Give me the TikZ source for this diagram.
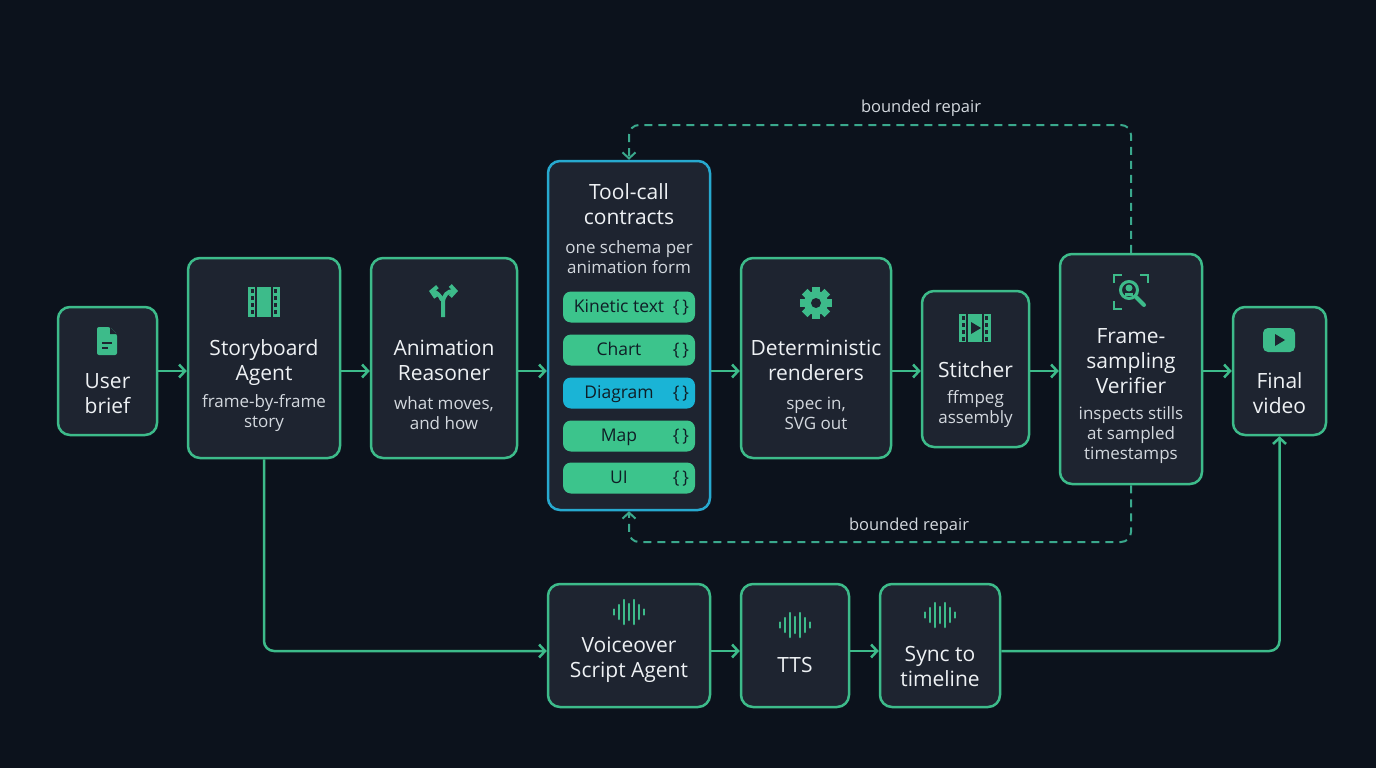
\documentclass[tikz,border=0pt]{standalone}
\usepackage{fontspec}
\setmainfont{Open Sans}
\usetikzlibrary{positioning,arrows.meta}

\definecolor{bg}{HTML}{0C121C}
\definecolor{boxfill}{HTML}{1E2430}
\definecolor{accent}{HTML}{3DBB8A}
\definecolor{pillgreen}{HTML}{3CC48C}
\definecolor{toolcyan}{HTML}{27A9CF}
\definecolor{pillcyan}{HTML}{1AB4D6}
\definecolor{dashcol}{HTML}{3AA88C}
\definecolor{txtmain}{HTML}{EEF1F4}
\definecolor{txtsub}{HTML}{D3D8DE}
\definecolor{pilltxt}{HTML}{0F1E26}

\newcommand{\pilltext}[1]{\makebox[100pt][c]{#1}\makebox[20pt][r]{\{\,\}}}

\tikzset{
  box/.style={draw=accent, line width=2.5pt, fill=boxfill, rounded corners=12pt, inner sep=0pt},
  boxhead/.style={text=txtmain, align=center, font=\fontsize{21}{25}\selectfont, inner sep=0pt},
  boxsub/.style={text=txtsub, align=center, font=\fontsize{17}{20}\selectfont, inner sep=0pt},
  pill/.style={fill=pillgreen, rounded corners=8pt, minimum width=132pt, minimum height=31pt,
    text=pilltxt, font=\fontsize{17.5}{20}\selectfont, inner sep=0pt, text height=12pt, text depth=2pt},
  flow/.style={draw=accent, line width=2.5pt, ->, rounded corners=10pt},
  repair/.style={draw=dashcol, line width=2pt, dash pattern=on 8pt off 6pt, ->, rounded corners=10pt},
  repairnote/.style={text=txtsub, font=\fontsize{16.5}{18}\selectfont},
  >={Straight Barb[length=6pt, width=13pt]},
  % icons
  pics/docicon/.style={code={
    \fill[accent, rounded corners=2pt] (-10,-14) -- (3,-14) -- (10,-7) -- (10,14) -- (-10,14) -- cycle;
    \fill[boxfill] (3,-14) -- (3,-7) -- (10,-7) -- cycle;
    \draw[boxfill, line width=2pt] (-5,2) -- (5,2) (-5,7) -- (1,7);
  }},
  pics/filmicon/.style={code={
    \fill[accent] (-16,-15) rectangle (16,15);
    \foreach \y in {-11,-4,3,10} {
      \fill[boxfill] (-13,{\y-2}) rectangle (-10,{\y+2});
      \fill[boxfill] (10,{\y-2}) rectangle (13,{\y+2});
    }
    \draw[boxfill, line width=1.5pt] (-8,-15) -- (-8,15) (8,-15) -- (8,15);
  }},
  pics/playfilm/.style={code={
    \fill[accent] (-16,-14) rectangle (16,14);
    \foreach \y in {-10,-3,4,11} {
      \fill[boxfill] (-13,{\y-2}) rectangle (-10,{\y+2});
      \fill[boxfill] (10,{\y-2}) rectangle (13,{\y+2});
    }
    \draw[boxfill, line width=1.5pt] (-8,-14) -- (-8,14) (8,-14) -- (8,14);
    \fill[boxfill] (-4,-6) -- (6,0) -- (-4,6) -- cycle;
  }},
  pics/forkicon/.style={code={
    \draw[accent, line width=4pt, -{Straight Barb[length=5pt, width=11pt]}]
      (0,16) -- (0,2) .. controls (0,-6) and (5,-10) .. (15,-10);
    \draw[accent, line width=4pt, -{Straight Barb[length=5pt, width=11pt]}]
      (-1,-1) .. controls (-3,-6) and (-7,-9) .. (-14,-10);
  }},
  pics/gearicon/.style={code={
    \foreach \a in {0,45,...,315}
      \fill[accent, rotate=\a] (-4,-16) rectangle (4,-9);
    \fill[accent] (0,0) circle (12);
    \fill[boxfill] (0,0) circle (5);
  }},
  pics/inspecticon/.style={code={
    \draw[accent, line width=2.5pt] (-17,-9) -- (-17,-17) -- (-9,-17)
      (9,-17) -- (17,-17) -- (17,-9) (-17,9) -- (-17,17) -- (-9,17);
    \draw[accent, line width=3pt] (-2,-2) circle (8.5);
    \fill[accent] (-2,-4) circle (3.5);
    \fill[accent] (-6,4) rectangle (2,1);
    \draw[accent, line width=4pt, line cap=round] (5,5) -- (13,13);
  }},
  pics/playicon/.style={code={
    \fill[accent, rounded corners=5pt] (-16,-12) rectangle (16,12);
    \fill[boxfill] (-4,-6) -- (6,0) -- (-4,6) -- cycle;
  }},
  pics/waveicon/.style={code={
    \foreach \x/\h in {-15/2.5,-10/7,-5/12,0/8,5/12,10/7,15/2.5}
      \draw[accent, line width=2.5pt, line cap=round] (\x,-\h) -- (\x,\h);
  }}
}

\begin{document}
\begin{tikzpicture}[x=1pt, y=-1pt]
  \useasboundingbox (0,0) rectangle (1376,768);
  \fill[bg] (0,0) rectangle (1376,768);

  % main row
  \node[box, minimum width=99, minimum height=128] at (107.5,371) (user) {};
  \node[box, minimum width=152, minimum height=200] at (264,358) (story) {};
  \node[box, minimum width=146, minimum height=200] at (444,358) (anim) {};
  \node[box, draw=toolcyan, minimum width=162, minimum height=349] at (629,335.5) (tool) {};
  \node[box, minimum width=150, minimum height=200] at (816,358) (render) {};
  \node[box, minimum width=107, minimum height=156] at (975.5,369) (stitch) {};
  \node[box, minimum width=142, minimum height=230] at (1131,369) (verif) {};
  \node[box, minimum width=93, minimum height=128] at (1279.5,371) (final) {};

  % voice row
  \node[box, minimum width=162, minimum height=123] at (629,645.5) (voice) {};
  \node[box, minimum width=108, minimum height=123] at (795,645.5) (tts) {};
  \node[box, minimum width=120, minimum height=123] at (940,645.5) (sync) {};

  % icons
  \pic at (107,341) {docicon};
  \pic at (264,302) {filmicon};
  \pic at (443,301) {forkicon};
  \pic at (816,303) {gearicon};
  \pic at (975,328) {playfilm};
  \pic at (1131,292) {inspecticon};
  \pic at (1279,340) {playicon};
  \pic at (629,612) {waveicon};
  \pic at (795,625) {waveicon};
  \pic at (940,615) {waveicon};

  % texts
  \node[boxhead] at (107.5,393.5) (usertxt) {User\\brief};
  \node[boxhead] at (264,363) (storytxt) {Storyboard\\Agent};
  \node[boxsub] at (264,413) (storysub) {frame-by-frame\\story};
  \node[boxhead] at (444,360) (animtxt) {Animation\\Reasoner};
  \node[boxsub] at (444,413) (animsub) {what moves,\\and how};
  \node[boxhead] at (629,204) (tooltxt) {Tool-call\\contracts};
  \node[boxsub] at (629,257) (toolsub) {one schema per\\animation form};
  \node[boxhead] at (816,360) (rendertxt) {Deterministic\\renderers};
  \node[boxsub] at (816,413) (rendersub) {spec in,\\SVG out};
  \node[boxhead] at (975.5,370) (stitchtxt) {Stitcher};
  \node[boxsub] at (975.5,409) (stitchsub) {ffmpeg\\assembly};
  \node[boxhead] at (1131,361) (veriftxt) {Frame-\\sampling\\Verifier};
  \node[boxsub] at (1131,435.5) (verifsub) {inspects stills\\at sampled\\timestamps};
  \node[boxhead] at (1279.5,393) (finaltxt) {Final\\video};
  \node[boxhead] at (629,660) (voicetxt) {Voiceover\\Script Agent};
  \node[boxhead] at (795,665) (ttstxt) {TTS};
  \node[boxhead] at (940,666) (synctxt) {Sync to\\timeline};

  % contract pills
  \node[pill] at (629,307) (kinetic) {\pilltext{Kinetic text}};
  \node[pill] at (629,350) (chart) {\pilltext{Chart}};
  \node[pill, fill=pillcyan] at (629,393) (diagram) {\pilltext{Diagram}};
  \node[pill] at (629,436) (map) {\pilltext{Map}};
  \node[pill] at (629,478) (ui) {\pilltext{UI}};

  % connectors
  \coordinate (vline) at (0,651);
  \coordinate (toprep) at (0,125);
  \coordinate (botrep) at (0,542);
  \draw[flow] (user.east) -- (story.west |- user);
  \draw[flow] (story.east |- user) -- (anim.west |- user);
  \draw[flow] (anim.east |- user) -- (tool.west |- user);
  \draw[flow] (tool.east |- user) -- (render.west |- user);
  \draw[flow] (render.east |- user) -- (stitch.west |- user);
  \draw[flow] (stitch.east |- user) -- (verif.west |- user);
  \draw[flow] (verif.east |- user) -- (final.west);
  \draw[flow] (story.south) -- (story.south |- vline) -- (voice.west |- vline);
  \draw[flow] (voice.east |- vline) -- (tts.west |- vline);
  \draw[flow] (tts.east |- vline) -- (sync.west |- vline);
  \draw[flow] (sync.east |- vline) -- (final.south |- vline) -- (final.south);
  \draw[repair] (verif.north) -- (verif.north |- toprep) -- (tool.north |- toprep) -- (tool.north);
  \draw[repair] (verif.south) -- (verif.south |- botrep) -- (tool.south |- botrep) -- (tool.south);
  \node[repairnote] at (921,108) (toplbl) {bounded repair};
  \node[repairnote] at (909,526) (botlbl) {bounded repair};
\end{tikzpicture}
\end{document}
